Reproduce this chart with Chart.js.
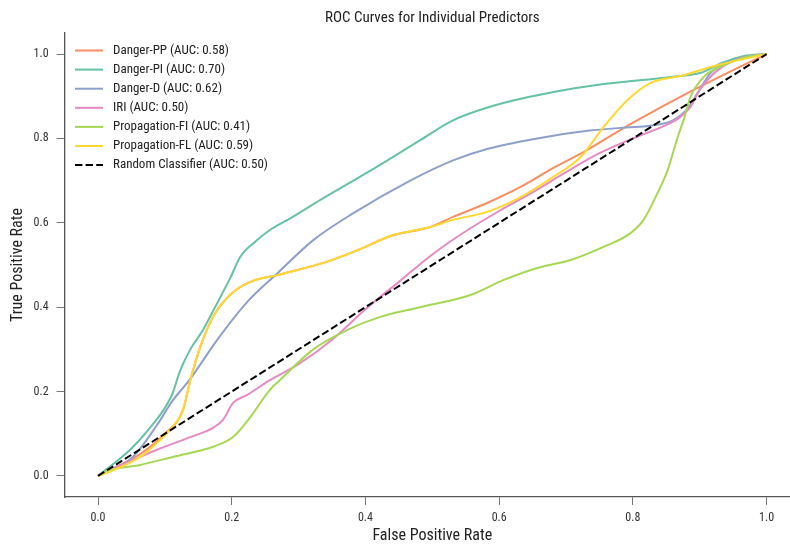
<!DOCTYPE html>
<html>
<head>
<meta charset="utf-8">
<script src="https://cdn.jsdelivr.net/npm/chart.js@4.4.1/dist/chart.umd.min.js"></script>
<style>
html,body{margin:0;padding:0;background:#fff;overflow:hidden;}
canvas{display:block;}
</style>
</head>
<body>
<canvas id="c" width="800" height="546" style="width:800px;height:546px"></canvas>
<script>
const titleText = "ROC Curves for Individual Predictors";
const xTitle = "False Positive Rate";
const yTitle = "True Positive Rate";
const tickValues = [0, 0.2, 0.4, 0.6, 0.8, 1.0];

const seriesLabels = ["Danger-PP (AUC: 0.58)", "Danger-PI (AUC: 0.70)", "Danger-D (AUC: 0.62)", "IRI (AUC: 0.50)", "Propagation-FI (AUC: 0.41)", "Propagation-FL (AUC: 0.59)", "Random Classifier (AUC: 0.50)"];
const seriesColors = ["#fc8d62", "#66c2a5", "#8da0cb", "#e78ac3", "#a6d854", "#ffd92f", "#000000"];

const dangerPP_fpr = [0, 0.02, 0.063, 0.1, 0.127, 0.138, 0.153, 0.172, 0.198, 0.228, 0.268, 0.337, 0.382, 0.442, 0.497, 0.531, 0.582, 0.632, 0.681, 0.732, 0.781, 0.826, 0.891, 0.95, 1];
const dangerPP_tpr = [0, 0.016, 0.052, 0.1, 0.156, 0.227, 0.306, 0.377, 0.43, 0.46, 0.476, 0.505, 0.531, 0.571, 0.59, 0.614, 0.647, 0.685, 0.73, 0.773, 0.82, 0.86, 0.915, 0.962, 1];

const dangerPI_fpr = [0, 0.048, 0.075, 0.11, 0.123, 0.138, 0.157, 0.175, 0.198, 0.213, 0.235, 0.257, 0.287, 0.332, 0.382, 0.43, 0.482, 0.531, 0.606, 0.681, 0.756, 0.81, 0.87, 0.9, 0.935, 0.965, 1];
const dangerPI_tpr = [0, 0.062, 0.109, 0.19, 0.25, 0.30, 0.346, 0.40, 0.47, 0.52, 0.555, 0.583, 0.61, 0.654, 0.70, 0.745, 0.796, 0.843, 0.884, 0.91, 0.929, 0.938, 0.948, 0.955, 0.98, 0.995, 1];

const dangerD_fpr = [0, 0.052, 0.088, 0.11, 0.138, 0.178, 0.223, 0.268, 0.322, 0.382, 0.467, 0.531, 0.582, 0.657, 0.732, 0.79, 0.826, 0.86, 0.88, 0.897, 0.916, 0.94, 0.97, 1];
const dangerD_tpr = [0, 0.045, 0.12, 0.175, 0.23, 0.322, 0.412, 0.48, 0.559, 0.623, 0.70, 0.748, 0.775, 0.80, 0.818, 0.826, 0.83, 0.843, 0.867, 0.908, 0.955, 0.979, 0.993, 1];

const iri_fpr = [0, 0.018, 0.063, 0.088, 0.138, 0.172, 0.187, 0.202, 0.223, 0.257, 0.3, 0.35, 0.4, 0.45, 0.5, 0.55, 0.6, 0.65, 0.7, 0.75, 0.8, 0.85, 0.87, 0.886, 0.90, 0.927, 0.96, 1];
const iri_tpr = [0, 0.014, 0.045, 0.062, 0.092, 0.114, 0.133, 0.173, 0.192, 0.227, 0.265, 0.323, 0.395, 0.46, 0.525, 0.58, 0.628, 0.672, 0.72, 0.765, 0.80, 0.832, 0.85, 0.874, 0.915, 0.962, 0.99, 1];

const propFI_fpr = [0, 0.018, 0.063, 0.112, 0.172, 0.202, 0.228, 0.257, 0.272, 0.322, 0.373, 0.422, 0.482, 0.557, 0.606, 0.657, 0.707, 0.756, 0.796, 0.816, 0.837, 0.852, 0.867, 0.876, 0.886, 0.906, 0.936, 0.97, 1];
const propFI_tpr = [0, 0.014, 0.026, 0.045, 0.069, 0.092, 0.14, 0.204, 0.227, 0.30, 0.346, 0.377, 0.40, 0.429, 0.464, 0.493, 0.512, 0.543, 0.575, 0.607, 0.671, 0.725, 0.803, 0.844, 0.898, 0.946, 0.974, 0.993, 1];

const propFL_fpr = [0, 0.018, 0.063, 0.088, 0.11, 0.127, 0.138, 0.153, 0.172, 0.198, 0.228, 0.268, 0.337, 0.382, 0.442, 0.497, 0.531, 0.582, 0.632, 0.681, 0.722, 0.756, 0.792, 0.826, 0.876, 0.927, 1];
const propFL_tpr = [0, 0.01, 0.045, 0.078, 0.114, 0.156, 0.227, 0.306, 0.377, 0.43, 0.46, 0.476, 0.505, 0.531, 0.571, 0.59, 0.607, 0.626, 0.661, 0.709, 0.756, 0.827, 0.891, 0.931, 0.95, 0.974, 1];

const random_fpr = [0, 1];
const random_tpr = [0, 1];

const FONT = "'Liberation Sans Narrow', 'Roboto Condensed', Roboto, sans-serif";

function pts(xs, ys) { return xs.map((x, i) => ({x: x, y: ys[i]})); }

const seriesData = [
  pts(dangerPP_fpr, dangerPP_tpr),
  pts(dangerPI_fpr, dangerPI_tpr),
  pts(dangerD_fpr, dangerD_tpr),
  pts(iri_fpr, iri_tpr),
  pts(propFI_fpr, propFI_tpr),
  pts(propFL_fpr, propFL_tpr),
  pts(random_fpr, random_tpr)
];

const datasets = seriesData.map((d, i) => ({
  label: seriesLabels[i],
  data: d,
  borderColor: seriesColors[i],
  backgroundColor: seriesColors[i],
  borderWidth: 2,
  borderDash: i === 6 ? [7.4, 3.2] : [],
  pointRadius: 0,
  fill: false,
  cubicInterpolationMode: 'monotone',
  order: 7 - i
}));

const customPlugin = {
  id: 'custom',
  afterDraw(chart) {
    const ctx = chart.ctx;
    const ca = chart.chartArea;
    ctx.save();
    ctx.fillStyle = '#222';
    ctx.font = "15px " + FONT;
    ctx.textAlign = 'center';
    ctx.textBaseline = 'middle';
    ctx.fillText(titleText, (ca.left + ca.right) / 2, 18.5);
    ctx.font = "13px " + FONT;
    ctx.textAlign = 'left';
    chart.data.datasets.forEach((ds, i) => {
      const y = 50.5 + i * 19.1;
      ctx.beginPath();
      ctx.strokeStyle = ds.borderColor;
      ctx.lineWidth = 2;
      ctx.setLineDash(ds.borderDash || []);
      ctx.moveTo(75, y);
      ctx.lineTo(103, y);
      ctx.stroke();
      ctx.setLineDash([]);
      ctx.fillStyle = '#222';
      ctx.fillText(ds.label, 113, y);
    });
    ctx.restore();
  }
};

new Chart(document.getElementById('c'), {
  type: 'line',
  data: { datasets: datasets },
  plugins: [customPlugin],
  options: {
    responsive: false,
    animation: false,
    layout: { padding: { top: 33, left: 0, right: 0, bottom: 0 } },
    plugins: { legend: { display: false }, tooltip: { enabled: false }, title: { display: false } },
    scales: {
      x: {
        type: 'linear',
        min: -0.05,
        max: 1.05,
        afterBuildTicks: (s) => { s.ticks = tickValues.map(v => ({value: v})); },
        afterFit: (s) => { s.height = 49; },
        ticks: { callback: (v) => Number(v).toFixed(1), color: '#333', font: { family: FONT, size: 12 }, padding: 6, maxRotation: 0, autoSkip: false },
        grid: { display: true, drawOnChartArea: false, drawTicks: true, tickLength: 8, color: '#777', lineWidth: 1 },
        border: { display: true, color: '#555', width: 1.3 },
        title: { display: true, text: xTitle, color: '#222', font: { family: FONT, size: 16 }, padding: { top: 0, bottom: 0 } }
      },
      y: {
        type: 'linear',
        min: -0.05,
        max: 1.05,
        afterBuildTicks: (s) => { s.ticks = tickValues.map(v => ({value: v})); },
        afterFit: (s) => { s.width = 64.6; },
        ticks: { callback: (v) => Number(v).toFixed(1), color: '#333', font: { family: FONT, size: 12 }, padding: 8, autoSkip: false },
        grid: { display: true, drawOnChartArea: false, drawTicks: true, tickLength: 8, color: '#777', lineWidth: 1 },
        border: { display: true, color: '#555', width: 1.3 },
        title: { display: true, text: yTitle, color: '#222', font: { family: FONT, size: 16 }, padding: { top: 8, bottom: 0 } }
      }
    }
  }
});
</script>
</body>
</html>
